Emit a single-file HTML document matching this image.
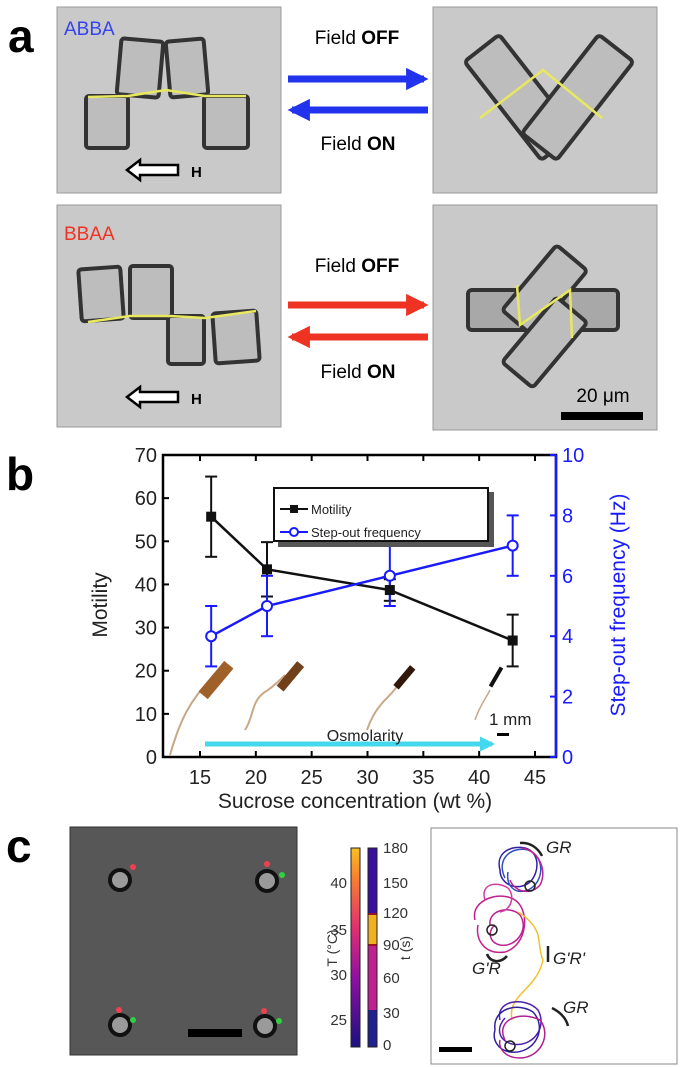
<!DOCTYPE html>
<html><head><meta charset="utf-8"><style>
html,body{margin:0;padding:0;background:#fff}
svg{display:block;font-family:"Liberation Sans",sans-serif}
</style></head><body>
<svg width="683" height="1067" viewBox="0 0 683 1067">
<defs>
<marker id="ab" viewBox="0 0 10 10" refX="8" refY="5" markerWidth="3.2" markerHeight="3.2" orient="auto"><path d="M0,0L10,5L0,10z" fill="#2233ee"/></marker>
<marker id="ar" viewBox="0 0 10 10" refX="8" refY="5" markerWidth="3.2" markerHeight="3.2" orient="auto"><path d="M0,0L10,5L0,10z" fill="#ee3322"/></marker>
<marker id="ac" viewBox="0 0 10 10" refX="8" refY="5" markerWidth="3" markerHeight="3" orient="auto"><path d="M0,0L10,5L0,10z" fill="#44d8ee"/></marker>
<linearGradient id="cbT" x1="0" y1="1" x2="0" y2="0"><stop offset="0" stop-color="#1a1080"/><stop offset="0.35" stop-color="#9010a0"/><stop offset="0.6" stop-color="#e03070"/><stop offset="0.85" stop-color="#f88030"/><stop offset="1" stop-color="#f8c020"/></linearGradient>
</defs>

<g>
<text x="8" y="52" font-size="46" font-weight="bold">a</text>
<rect x="57" y="7" width="224" height="186" fill="#c9c9c9" stroke="#999"/>
<text x="64" y="35" font-size="19" fill="#3344ee">ABBA</text>
<g fill="#bdbdbd" stroke="#333" stroke-width="4">
<rect x="119" y="40" width="42" height="56" rx="3" transform="rotate(5 140 68)"/>
<rect x="168" y="40" width="38" height="56" rx="3" transform="rotate(-5 187 68)"/>
<rect x="86" y="96" width="42" height="52" rx="3"/>
<rect x="204" y="96" width="44" height="52" rx="3"/>
</g>
<polyline points="88,97 128,96 166,90 205,96 246,96" fill="none" stroke="#e8e860" stroke-width="2.5"/>
<path d="M127,170 L140,160 L140,165 L178,165 L178,175 L140,175 L140,180 Z" fill="#fff" stroke="#000" stroke-width="2.5"/>
<text x="191" y="177" font-size="15" font-weight="bold">H</text>

<rect x="433" y="7" width="224" height="186" fill="#c9c9c9" stroke="#999"/>
<g fill="#bdbdbd" stroke="#333" stroke-width="4">
<rect x="498" y="35" width="44" height="125" rx="4" transform="rotate(-38 520 97)"/>
<rect x="556" y="35" width="44" height="125" rx="4" transform="rotate(38 578 97)"/>
</g>
<polyline points="480,118 543,70 602,118" fill="none" stroke="#e8e860" stroke-width="2.5"/>

<text x="357" y="44" font-size="19" text-anchor="middle">Field <tspan font-weight="bold">OFF</tspan></text>
<line x1="288" y1="79" x2="424" y2="79" stroke="#2233ee" stroke-width="7" marker-end="url(#ab)"/>
<line x1="428" y1="110" x2="292" y2="110" stroke="#2233ee" stroke-width="7" marker-end="url(#ab)"/>
<text x="358" y="150" font-size="19" text-anchor="middle">Field <tspan font-weight="bold">ON</tspan></text>

<rect x="57" y="205" width="224" height="222" fill="#c9c9c9" stroke="#999"/>
<text x="64" y="240" font-size="19" fill="#ee3322">BBAA</text>
<g fill="#bdbdbd" stroke="#333" stroke-width="4">
<rect x="80" y="268" width="42" height="52" rx="3" transform="rotate(-4 101 294)"/>
<rect x="130" y="266" width="42" height="52" rx="3"/>
<rect x="168" y="316" width="36" height="48" rx="3"/>
<rect x="214" y="312" width="44" height="50" rx="3" transform="rotate(-4 236 337)"/>
</g>
<polyline points="88,322 130,316 170,316 205,318 256,311" fill="none" stroke="#e8e860" stroke-width="2.5"/>
<path d="M127,397 L140,387 L140,392 L178,392 L178,402 L140,402 L140,407 Z" fill="#fff" stroke="#000" stroke-width="2.5"/>
<text x="191" y="404" font-size="15" font-weight="bold">H</text>

<rect x="433" y="205" width="224" height="225" fill="#c9c9c9" stroke="#999"/>
<g fill="#bdbdbd" stroke="#333" stroke-width="4">
<rect x="468" y="290" width="150" height="40" rx="4" fill="#a8a8a8"/>
<rect x="525" y="248" width="40" height="85" rx="4" transform="rotate(40 545 290)"/>
<rect x="525" y="300" width="40" height="85" rx="4" transform="rotate(40 545 342)"/>
</g>
<polyline points="517,285 520,325 570,290 572,338" fill="none" stroke="#e8e860" stroke-width="2.5"/>
<text x="603" y="402" font-size="19" text-anchor="middle">20 μm</text>
<rect x="561" y="412" width="82" height="8" fill="#000"/>

<text x="357" y="272" font-size="19" text-anchor="middle">Field <tspan font-weight="bold">OFF</tspan></text>
<line x1="288" y1="305" x2="424" y2="305" stroke="#ee3322" stroke-width="7" marker-end="url(#ar)"/>
<line x1="428" y1="337" x2="292" y2="337" stroke="#ee3322" stroke-width="7" marker-end="url(#ar)"/>
<text x="358" y="378" font-size="19" text-anchor="middle">Field <tspan font-weight="bold">ON</tspan></text>
</g>

<g>
<text x="6" y="490" font-size="46" font-weight="bold">b</text>
<g id="chart"></g>
</g>

<g>
<text x="6" y="862" font-size="46" font-weight="bold">c</text>
<rect x="70" y="827" width="227" height="228" fill="#575757" stroke="#333"/>
<g stroke="#111" stroke-width="4" fill="#9a9a9a">
<circle cx="120" cy="880" r="10"/><circle cx="267" cy="881" r="10"/><circle cx="120" cy="1025" r="10"/><circle cx="265" cy="1026" r="10"/>
</g>
<g fill="#f04050"><circle cx="133" cy="867" r="3"/><circle cx="267" cy="864" r="3"/><circle cx="119" cy="1010" r="3"/><circle cx="264" cy="1011" r="3"/></g>
<g fill="#30d040"><circle cx="282" cy="875" r="3"/><circle cx="133" cy="1020" r="3"/><circle cx="279" cy="1021" r="3"/></g>
<rect x="188" y="1029" width="54" height="8" fill="#000"/>

<rect x="351" y="848" width="9" height="199" fill="url(#cbT)" stroke="#222"/>
<g>
<rect x="368" y="848" width="9" height="66" fill="#3a10a0"/>
<rect x="368" y="914" width="9" height="31" fill="#f0b020"/>
<rect x="368" y="945" width="9" height="65" fill="#c02090"/>
<rect x="368" y="1010" width="9" height="37" fill="#202090"/>
<line x1="368" y1="914" x2="377" y2="914" stroke="#a01020" stroke-width="2"/>
<line x1="368" y1="945" x2="377" y2="945" stroke="#a01020" stroke-width="2"/>
<rect x="368" y="848" width="9" height="199" fill="none" stroke="#222"/>
</g>
<g font-size="15" fill="#333">
<text x="347" y="888" text-anchor="end">40</text><text x="347" y="935" text-anchor="end">35</text><text x="347" y="980" text-anchor="end">30</text><text x="347" y="1025" text-anchor="end">25</text>
</g>
<g font-size="15" fill="#333">
<text x="383" y="853">180</text><text x="383" y="888">150</text><text x="383" y="918">120</text><text x="383" y="950">90</text><text x="383" y="983">60</text><text x="383" y="1018">30</text><text x="383" y="1050">0</text>
</g>
<text x="337" y="948" font-size="14" fill="#333" text-anchor="middle" transform="rotate(-90 337 948)">T (°C)</text>
<text x="410" y="948" font-size="14" fill="#333" text-anchor="middle" transform="rotate(-90 410 948)">t (s)</text>

<rect x="431" y="828" width="246" height="236" fill="#fff" stroke="#888"/>
<g fill="none" stroke-width="1.5">
<path d="M500,870 C495,852 512,845 525,848 C540,852 540,872 530,882 C518,892 500,885 500,870 Z" stroke="#3020a0"/>
<path d="M505,878 C496,860 510,846 528,850 C545,856 545,882 528,890 C514,895 506,885 508,872" stroke="#3050c0"/>
<path d="M522,848 C538,850 548,870 540,885 C532,895 515,893 510,880" stroke="#c02090"/>
<path d="M475,920 C470,900 500,890 515,900 C530,910 528,945 505,952 C485,955 475,940 478,925" stroke="#c02090"/>
<path d="M490,925 C488,910 510,905 520,915 C530,930 515,948 500,945 C488,942 488,930 495,925" stroke="#c02090"/>
<path d="M485,900 C480,885 495,880 508,888 C515,895 512,910 500,912" stroke="#d040a0"/>
<path d="M518,912 C528,918 535,925 538,935 C540,945 540,955 543,960 C540,975 530,985 520,995 C513,1003 510,1010 512,1020" stroke="#f0c030"/>
<path d="M500,1020 C495,1000 525,996 538,1010 C548,1028 532,1048 512,1044 C498,1040 496,1028 505,1018" stroke="#5020b0"/>
<path d="M495,1030 C492,1008 518,1002 533,1012 C548,1028 535,1055 510,1052 C498,1050 492,1040 495,1030" stroke="#3020a0"/>
<path d="M505,1040 C495,1020 520,1010 540,1020 C552,1035 540,1058 520,1058 C505,1058 498,1048 500,1040" stroke="#b02090"/>
</g>
<g fill="none" stroke="#222" stroke-width="1.5"><circle cx="530" cy="886" r="5"/><circle cx="492" cy="930" r="5"/><circle cx="510" cy="1046" r="5"/></g>
<g fill="none" stroke="#222" stroke-width="2.5">
<path d="M520,843 C530,842 538,848 542,856"/>
<path d="M487,954 C490,962 500,964 507,956"/>
<path d="M552,1008 C560,1012 566,1018 568,1026"/>
<line x1="548" y1="946" x2="548" y2="962"/>
</g>
<g font-size="17" font-style="italic" fill="#222">
<text x="546" y="853">GR</text><text x="472" y="974">G'R</text><text x="553" y="964">G'R'</text><text x="563" y="1013">GR</text>
</g>
<rect x="439" y="1047" width="33" height="5" fill="#000"/>
</g>

<script>
const xCategories = [16, 21, 32, 43];
const motility = [55.7, 43.5, 38.7, 27];
const motilityErr = [9.3, 6.3, 2.5, 6];
const stepOut = [4, 5, 6, 7];
const stepOutErr = [1, 1, 1, 1];
const xTicks = [15, 20, 25, 30, 35, 40, 45];
const yLeftTicks = [0, 10, 20, 30, 40, 50, 60, 70];
const yRightTicks = [0, 2, 4, 6, 8, 10];

const NS = "http://www.w3.org/2000/svg";
const g = document.getElementById("chart");
const L = 163, R = 556, T = 455, B = 757;
const xs = v => 200 + (v - 15) * (535 - 200) / 30;
const yl = v => B - v * (B - T) / 70;
const yr = v => B - v * (B - T) / 10;
function mk(tag, attrs, parent) {
  const e = document.createElementNS(NS, tag);
  for (const k in attrs) e.setAttribute(k, attrs[k]);
  (parent || g).appendChild(e);
  return e;
}
let e = mk("rect", {x: L, y: T, width: R - L, height: B - T, fill: "none", stroke: "#000", "stroke-width": 2.5});


e = mk("line", {x1: R, y1: T, x2: R, y2: B, stroke: "#1a1aff", "stroke-width": 2.5});


xTicks.forEach(v => {
  mk("line", {x1: xs(v), y1: B, x2: xs(v), y2: B - 6, stroke: "#000", "stroke-width": 2});
  mk("line", {x1: xs(v), y1: T, x2: xs(v), y2: T + 6, stroke: "#000", "stroke-width": 2});
  const t = mk("text", {x: xs(v), y: B + 27, "font-size": 20, "text-anchor": "middle", fill: "#222"});
  t.textContent = v;
  
  
});
yLeftTicks.forEach(v => {
  mk("line", {x1: L, y1: yl(v), x2: L + 6, y2: yl(v), stroke: "#000", "stroke-width": 2});
  const t = mk("text", {x: L - 6, y: yl(v) + 7, "font-size": 20, "text-anchor": "end", fill: "#222"});
  t.textContent = v;
  
  
});
yRightTicks.forEach(v => {
  mk("line", {x1: R, y1: yr(v), x2: R - 6, y2: yr(v), stroke: "#1a1aff", "stroke-width": 2});
  const t = mk("text", {x: R + 6, y: yr(v) + 7, "font-size": 20, fill: "#1a1aff"});
  t.textContent = v;
  
  
});
e = mk("text", {x: 355, y: 808, "font-size": 21, "text-anchor": "middle", fill: "#222"});
e.textContent = "Sucrose concentration (wt %)";


e = mk("text", {x: 107, y: 605, "font-size": 21, "text-anchor": "middle", fill: "#222", transform: "rotate(-90 107 605)"});
e.textContent = "Motility";


e = mk("text", {x: 625, y: 605, "font-size": 21, "text-anchor": "middle", fill: "#1a1aff", transform: "rotate(-90 625 605)"});
e.textContent = "Step-out frequency (Hz)";



const deco = mk("g", {});


mk("path", {d: "M170,755 C180,720 190,700 212,678", stroke: "#c8a888", "stroke-width": 2, fill: "none"}, deco);
mk("rect", {x: 210, y: 660, width: 12, height: 40, fill: "#a0602a", transform: "rotate(40 216 680)"}, deco);
mk("path", {d: "M245,730 C255,715 250,700 268,690 C275,685 280,680 285,675", stroke: "#c8a888", "stroke-width": 2, fill: "none"}, deco);
mk("rect", {x: 286, y: 660, width: 9, height: 32, fill: "#70401a", transform: "rotate(40 290 676)"}, deco);
mk("path", {d: "M367,730 C372,715 380,705 385,700 C390,695 395,690 398,685", stroke: "#c8a888", "stroke-width": 2, fill: "none"}, deco);
mk("rect", {x: 401, y: 664, width: 7, height: 26, fill: "#301808", transform: "rotate(40 404 677)"}, deco);
mk("path", {d: "M475,720 C480,705 485,700 490,690", stroke: "#c8a888", "stroke-width": 1.5, fill: "none"}, deco);
mk("rect", {x: 494, y: 666, width: 4, height: 22, fill: "#111", transform: "rotate(30 496 677)"}, deco);
e = mk("text", {x: 489, y: 725, "font-size": 17, fill: "#222"});
e.textContent = "1 mm";


mk("rect", {x: 497, y: 733, width: 12, height: 3, fill: "#000"}, deco);
e = mk("line", {x1: 205, y1: 744, x2: 492, y2: 744, stroke: "#44d8ee", "stroke-width": 5, "marker-end": "url(#ac)"});


e = mk("text", {x: 365, y: 741, "font-size": 16, "text-anchor": "middle", fill: "#222"});
e.textContent = "Osmolarity";



e = mk("polyline", {points: xCategories.map((c, i) => xs(c) + "," + yl(motility[i])).join(" "), fill: "none", stroke: "#111", "stroke-width": 2.5});


e = mk("polyline", {points: xCategories.map((c, i) => xs(c) + "," + yr(stepOut[i])).join(" "), fill: "none", stroke: "#1a1aff", "stroke-width": 2.5});


xCategories.forEach((c, i) => {
  const x = xs(c);
  const y1 = yl(motility[i] - motilityErr[i]), y2 = yl(motility[i] + motilityErr[i]);
  mk("line", {x1: x, y1: y1, x2: x, y2: y2, stroke: "#111", "stroke-width": 2});
  mk("line", {x1: x - 6, y1: y1, x2: x + 6, y2: y1, stroke: "#111", "stroke-width": 2});
  mk("line", {x1: x - 6, y1: y2, x2: x + 6, y2: y2, stroke: "#111", "stroke-width": 2});
  const s1 = yr(stepOut[i] - stepOutErr[i]), s2 = yr(stepOut[i] + stepOutErr[i]);
  mk("line", {x1: x, y1: s1, x2: x, y2: s2, stroke: "#1a1aff", "stroke-width": 2});
  mk("line", {x1: x - 6, y1: s1, x2: x + 6, y2: s1, stroke: "#1a1aff", "stroke-width": 2});
  mk("line", {x1: x - 6, y1: s2, x2: x + 6, y2: s2, stroke: "#1a1aff", "stroke-width": 2});
  const m = mk("rect", {x: x - 5, y: yl(motility[i]) - 5, width: 10, height: 10, fill: "#111"});
  
  
  const p = mk("circle", {cx: x, cy: yr(stepOut[i]), r: 5, fill: "#fff", stroke: "#1a1aff", "stroke-width": 2});
  
  
});
const lg = mk("g", {});


mk("rect", {x: 278, y: 492, width: 216, height: 55, fill: "#555"}, lg);
mk("rect", {x: 274, y: 488, width: 214, height: 53, fill: "#fff", stroke: "#111", "stroke-width": 2}, lg);
mk("line", {x1: 280, y1: 509, x2: 308, y2: 509, stroke: "#111", "stroke-width": 2}, lg);
mk("rect", {x: 290, y: 505, width: 8, height: 8, fill: "#111"}, lg);
mk("line", {x1: 280, y1: 532, x2: 308, y2: 532, stroke: "#1a1aff", "stroke-width": 2}, lg);
mk("circle", {cx: 294, cy: 532, r: 4, fill: "#fff", stroke: "#1a1aff", "stroke-width": 2}, lg);
e = mk("text", {x: 311, y: 514, "font-size": 13, fill: "#222"}, lg);
e.textContent = "Motility";


e = mk("text", {x: 311, y: 537, "font-size": 13, fill: "#222"}, lg);
e.textContent = "Step-out frequency";


</script>
</svg>
</body></html>
